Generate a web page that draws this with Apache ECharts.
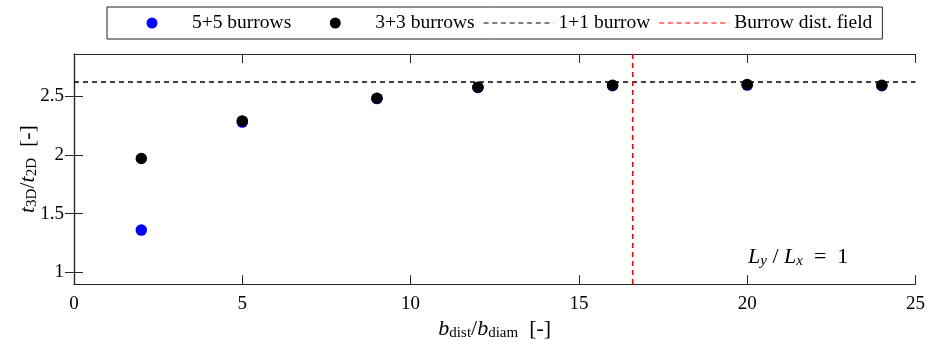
<!DOCTYPE html>
<html>
<head>
<meta charset="utf-8">
<script src="https://cdn.jsdelivr.net/npm/echarts@6/dist/echarts.min.js"></script>
<style>
  html, body { margin: 0; padding: 0; background: #fff; }
  #main { width: 928px; height: 346px; }
</style>
</head>
<body>
<div id="main"></div>
<script>
// spacing b_dist / b_diam
const bDist = [2, 5, 9, 12, 16, 20, 24];
// t3D / t2D for each burrow layout
const fiveFive = [1.36, 2.28, 2.48, 2.575, 2.59, 2.595, 2.59];
const threeThree = [1.97, 2.29, 2.483, 2.577, 2.594, 2.60, 2.594];
const oneOneBurrow = 2.622;
const burrowDistField = 16.6;
const yTicks = [1, 1.5, 2, 2.5];

const FONT = 'Liberation Serif';
const AXIS_COLOR = '#262626';

const chartDom = document.getElementById('main');
const myChart = echarts.init(chartDom);

const toPairs = (xs, ys) => xs.map((x, i) => [x, ys[i]]);

const yMin = 0.9;
const yMax = 2.86;

// legend icons drawn in a 70x11 box (tiny corner specks fix the box size)
const BOX = 'M0,0L0.05,0L0.05,0.05Z M69.95,10.95L70,10.95L70,11Z ';
const dotIcon = 'path://' + BOX + 'M29.5,5.5A5.5,5.5,0,1,0,40.5,5.5A5.5,5.5,0,1,0,29.5,5.5Z';
let dashPath = BOX;
for (let x = 0; x < 70; x += 8.7) {
  const w = Math.min(5, 70 - x);
  dashPath += `M${x},4.9L${x + w},4.9L${x + w},6.1L${x},6.1Z `;
}
const dashIcon = 'path://' + dashPath;

const nameRich = {
  it: { fontFamily: FONT, fontStyle: 'italic', fontSize: 22, lineHeight: 24, color: '#000' },
  n: { fontFamily: FONT, fontSize: 22, lineHeight: 24, color: '#000' },
  sub: { fontFamily: FONT, fontSize: 15, lineHeight: 13, verticalAlign: 'bottom', color: '#000' },
  subit: { fontFamily: FONT, fontStyle: 'italic', fontSize: 15, lineHeight: 13, verticalAlign: 'bottom', color: '#000' },
};

const option = {
  animation: false,
  grid: { left: 74, right: 12, top: 54, bottom: 60 },
  legend: {
    left: 107,
    top: 7,
    padding: [6, 10, 6, 10],
    itemWidth: 70,
    itemHeight: 11,
    itemGap: 9,
    borderColor: '#222',
    borderWidth: 1,
    itemStyle: { borderWidth: 0 },
    textStyle: { fontFamily: FONT, fontSize: 19.5, color: '#000' },
    data: [
      { name: '5+5 burrows', icon: dotIcon },
      { name: '3+3 burrows', icon: dotIcon },
      { name: '1+1 burrow', icon: dashIcon },
      { name: 'Burrow dist. field', icon: dashIcon },
    ],
  },
  xAxis: [
    {
      type: 'value',
      min: 0,
      max: 25,
      interval: 5,
      name: '{it|b}{sub|dist}{n|/}{it|b}{sub|diam}{n|  [-]}',
      nameLocation: 'middle',
      nameGap: 25,
      nameTextStyle: { rich: nameRich, verticalAlign: 'top' },
      axisLine: { lineStyle: { color: AXIS_COLOR, width: 1.2 } },
      axisTick: { inside: true, length: 9, lineStyle: { color: AXIS_COLOR } },
      axisLabel: { fontFamily: FONT, fontSize: 19, color: '#000', margin: 10 },
      splitLine: { show: false },
    },
    {
      type: 'value',
      position: 'top',
      min: 0,
      max: 25,
      interval: 5,
      axisLine: { show: true, lineStyle: { color: AXIS_COLOR, width: 1.2 } },
      axisTick: { inside: true, length: 9, lineStyle: { color: AXIS_COLOR } },
      axisLabel: { show: false },
      splitLine: { show: false },
    },
  ],
  yAxis: [
    {
      type: 'value',
      min: yMin,
      max: yMax,
      name: '{it|t}{sub|3D}{n|/}{it|t}{sub|2D}{n|  [-]}',
      nameLocation: 'middle',
      nameGap: 34,
      nameMoveOverlap: false,
      nameTextStyle: { rich: nameRich },
      axisLine: { show: true, lineStyle: { color: AXIS_COLOR, width: 1.2 } },
      axisTick: { inside: true, length: 9, customValues: yTicks, lineStyle: { color: AXIS_COLOR } },
      axisLabel: {
        fontFamily: FONT,
        fontSize: 19,
        color: '#000',
        margin: 10,
        customValues: yTicks,
        formatter: (v) => String(v),
      },
      splitLine: { show: false },
    },
    {
      type: 'value',
      position: 'right',
      min: yMin,
      max: yMax,
      axisLine: { show: true, lineStyle: { color: AXIS_COLOR, width: 1.2 } },
      axisTick: { inside: true, length: 9, customValues: yTicks, lineStyle: { color: AXIS_COLOR } },
      axisLabel: { show: false, customValues: yTicks },
      splitLine: { show: false },
    },
  ],
  series: [
    {
      name: '1+1 burrow',
      type: 'line',
      z: 1,
      symbol: 'none',
      data: [[0, oneOneBurrow], [25, oneOneBurrow]],
      lineStyle: { color: '#000', width: 1.4, type: [5, 4] },
      itemStyle: { color: '#000' },
    },
    {
      name: 'Burrow dist. field',
      type: 'line',
      z: 1,
      symbol: 'none',
      data: [[burrowDistField, yMin], [burrowDistField, yMax]],
      lineStyle: { color: '#ff0000', width: 1.6, type: [5, 4] },
      itemStyle: { color: '#ff0000' },
    },
    {
      name: '5+5 burrows',
      type: 'scatter',
      z: 3,
      symbolSize: 11.5,
      data: toPairs(bDist, fiveFive),
      itemStyle: { color: '#0000ff', opacity: 1 },
    },
    {
      name: '3+3 burrows',
      type: 'scatter',
      z: 4,
      symbolSize: 11.5,
      data: toPairs(bDist, threeThree),
      itemStyle: { color: '#000000', opacity: 1 },
    },
  ],
  graphic: [
    {
      type: 'text',
      left: 748,
      top: 246,
      style: {
        text: '{it|L}{subit|y}{n| / }{it|L}{subit|x}{n|  =  1}',
        rich: nameRich,
      },
    },
  ],
};

option && myChart.setOption(option);
</script>
</body>
</html>
